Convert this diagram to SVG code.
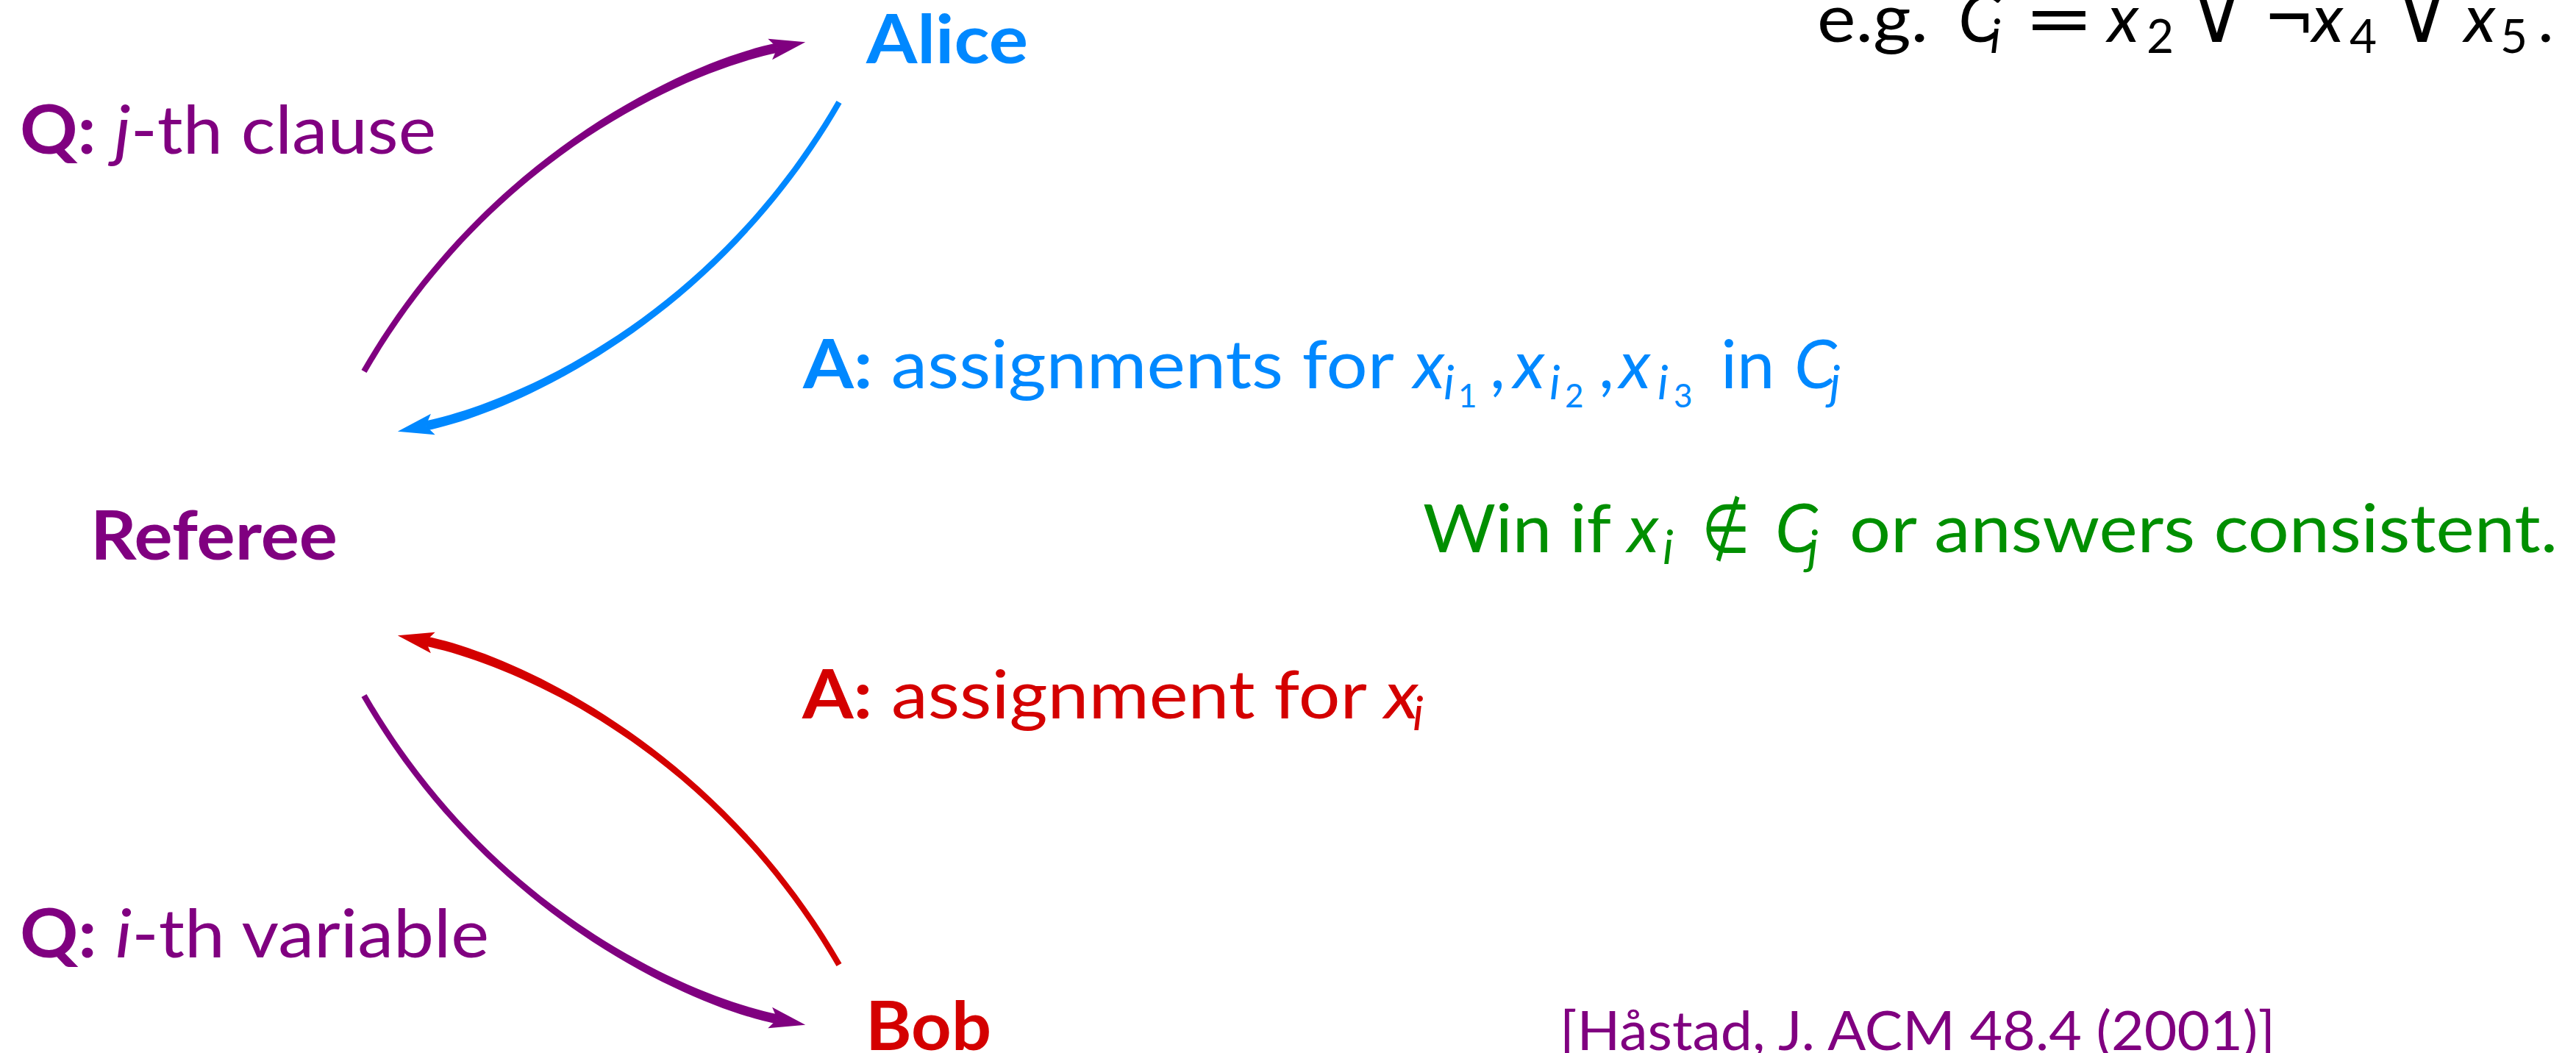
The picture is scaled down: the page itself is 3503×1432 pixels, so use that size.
<svg xmlns="http://www.w3.org/2000/svg" width="3503" height="1432" viewBox="0 0 3503 1432">
<defs>
<style>
text{font-family:Lato,'Noto Sans',sans-serif;font-size:92px}
.b{font-weight:700}
.i{font-style:italic}
.sub{font-size:64px}
.ss{font-size:44px}
.m{font-family:'DejaVu Sans',sans-serif;font-style:normal}
.big{font-size:100px;font-weight:200}
.pu{fill:#800080}
.bl{fill:#0088FF}
.rd{fill:#D40000}
.gr{fill:#008F00}
.k{fill:#000000}
.cite{font-size:74px}
</style>
<path id="head" d="M39,0 L-10,-14.5 L0,0 L-10,14.5 Z"/>
</defs>
<rect width="3503" height="1432" fill="#ffffff"/>

<g id="connectors">
  <g id="c-referee-alice" class="pu">
    <path d="M498.5,507 C673.3,204.3 947.6,94.0 1058.3,71.4 L1055.7,58.6 C945.0,81.2 666.3,200.3 491.5,503 Z"/>
    <use href="#head" transform="translate(1057,65) rotate(-11.5)"/>
  </g>
  <g id="c-alice-referee" class="bl" transform="translate(1636,644) scale(-1,-1)">
    <path d="M498.5,507 C673.3,204.3 947.6,94.0 1058.3,71.4 L1055.7,58.6 C945.0,81.2 666.3,200.3 491.5,503 Z"/>
    <use href="#head" transform="translate(1057,65) rotate(-11.5)"/>
  </g>
  <g id="c-bob-referee" class="rd" transform="translate(1636,807) scale(-1,1)">
    <path d="M498.5,507 C673.3,204.3 947.6,94.0 1058.3,71.4 L1055.7,58.6 C945.0,81.2 666.3,200.3 491.5,503 Z"/>
    <use href="#head" transform="translate(1057,65) rotate(-11.5)"/>
  </g>
  <g id="c-referee-bob" class="pu" transform="translate(0,1451) scale(1,-1)">
    <path d="M498.5,507 C673.3,204.3 947.6,94.0 1058.3,71.4 L1055.7,58.6 C945.0,81.2 666.3,200.3 491.5,503 Z"/>
    <use href="#head" transform="translate(1057,65) rotate(-11.5)"/>
  </g>
</g>

<g id="node-alice" class="bl">
  <text class="b" x="1178" y="86" textLength="220" lengthAdjust="spacingAndGlyphs">Alice</text>
</g>
<g id="node-referee" class="pu">
  <text class="b" x="123" y="761" textLength="336" lengthAdjust="spacingAndGlyphs">Referee</text>
</g>
<g id="node-bob" class="rd">
  <text class="b" x="1177" y="1428" textLength="171" lengthAdjust="spacingAndGlyphs">Bob</text>
</g>

<g id="label-q-clause" class="pu">
  <text x="27" y="209" textLength="566" lengthAdjust="spacingAndGlyphs"><tspan class="b">Q:</tspan> <tspan class="i">j</tspan>-th clause</text>
</g>
<g id="label-q-variable" class="pu">
  <text x="27" y="1302" textLength="638" lengthAdjust="spacingAndGlyphs"><tspan class="b">Q:</tspan> <tspan class="i">i</tspan>-th variable</text>
</g>

<g id="label-a-alice" class="bl">
  <text x="1092" y="528" textLength="804" lengthAdjust="spacingAndGlyphs"><tspan class="b">A:</tspan> assignments for</text>
  <text class="i" x="1922" y="528">x</text>
  <text class="i sub" x="1963" y="543">i</text>
  <text class="ss" x="1983" y="554">1</text>
  <text x="2026" y="528">,</text>
  <text class="i" x="2058" y="528">x</text>
  <text class="i sub" x="2107" y="543">i</text>
  <text class="ss" x="2128" y="554">2</text>
  <text x="2174" y="528">,</text>
  <text class="i" x="2202" y="528">x</text>
  <text class="i sub" x="2254" y="543">i</text>
  <text class="ss" x="2276" y="554">3</text>
  <text x="2340" y="528">in</text>
  <text class="i" x="2440" y="528">C</text>
  <text class="i sub" x="2488" y="543">j</text>
</g>

<g id="label-win" class="gr">
  <text x="1935" y="751" textLength="256" lengthAdjust="spacingAndGlyphs">Win if</text>
  <text class="i" x="2213" y="751">x</text>
  <text class="i sub" x="2261" y="767">i</text>
  <text class="m" x="2314" y="751" textLength="66" lengthAdjust="spacingAndGlyphs">∉</text>
  <text class="i" x="2414" y="751">C</text>
  <text class="i sub" x="2458" y="767">j</text>
  <text x="2515" y="751" textLength="963" lengthAdjust="spacingAndGlyphs">or answers consistent.</text>
</g>

<g id="label-a-bob" class="rd">
  <text x="1091" y="977" textLength="838" lengthAdjust="spacingAndGlyphs"><tspan class="b">A:</tspan> assignment for <tspan class="i">x</tspan></text>
  <text class="i sub" x="1921" y="993">i</text>
</g>

<g id="label-example" class="k">
  <text x="2471" y="57" textLength="151" lengthAdjust="spacingAndGlyphs">e.g.</text>
  <text class="i" x="2663" y="57">C</text>
  <text class="i sub" x="2706" y="72">i</text>
  <text class="m" x="2752" y="57" textLength="96" lengthAdjust="spacingAndGlyphs">=</text>
  <text class="i" x="2866" y="57">x</text>
  <text class="sub" x="2919" y="72">2</text>
  <text class="m big" x="2978" y="57">∨</text>
  <text class="m" x="3078" y="57" textLength="70" lengthAdjust="spacingAndGlyphs">¬</text>
  <text class="i" x="3144" y="57">x</text>
  <text class="sub" x="3195" y="72">4</text>
  <text class="m big" x="3257" y="57">∨</text>
  <text class="i" x="3351" y="57">x</text>
  <text class="sub" x="3400" y="72">5</text>
  <text x="3451" y="57">.</text>
</g>

<g id="label-citation" class="pu">
  <text class="cite" x="2121" y="1428" textLength="973" lengthAdjust="spacingAndGlyphs">[Håstad, J. ACM 48.4 (2001)]</text>
</g>
</svg>
